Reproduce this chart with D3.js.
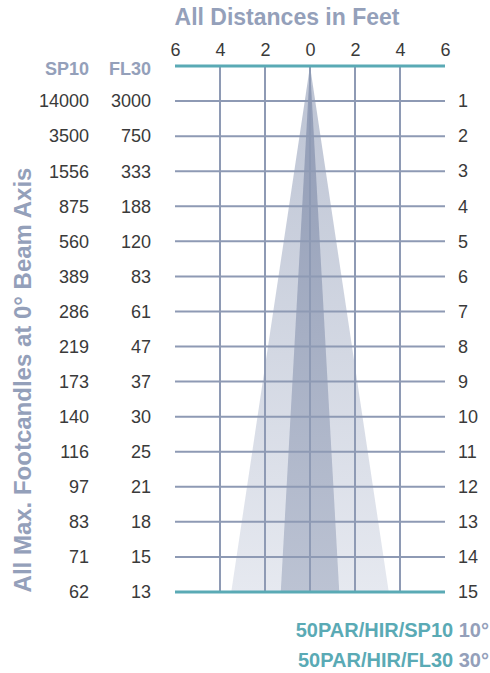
<!DOCTYPE html>
<html>
<head>
<meta charset="utf-8">
<script src="https://cdn.jsdelivr.net/npm/d3@7"></script>
<style>
  body { margin: 0; background: #fff; }
  text { font-family: "Liberation Sans", Arial, sans-serif; }
</style>
</head>
<body>
<div id="chart"></div>
<script>
// data
var distances = [1, 2, 3, 4, 5, 6, 7, 8, 9, 10, 11, 12, 13, 14, 15];
var sp10 = [14000, 3500, 1556, 875, 560, 389, 286, 219, 173, 140, 116, 97, 83, 71, 62];
var fl30 = [3000, 750, 333, 188, 120, 83, 61, 47, 37, 30, 25, 21, 18, 15, 13];
var feetTicks = [-6, -4, -2, 0, 2, 4, 6];
var beamNames = ["50PAR/HIR/SP10", "50PAR/HIR/FL30"];
var beamAngles = ["10°", "30°"];
// half beam width (ft) at the last distance
var beamHalfWidth = [1.3, 3.5];

var W = 490, H = 673;
var teal = "#5aaab5", grid = "#8e9ab4", label = "#94a0ba", ink = "#3a3a3a";

var svg = d3.select("#chart")
  .append("svg")
  .attr("width", W)
  .attr("height", H);

var x = d3.scaleLinear().domain([-6, 6]).range([175, 445]);
var y = d3.scaleLinear().domain([0, 15]).range([66, 592]);

// gradients for the beams (fade toward the far end)
var defs = svg.append("defs");
function grad(id, c0, c1) {
  var g = defs.append("linearGradient")
    .attr("id", id)
    .attr("gradientUnits", "userSpaceOnUse")
    .attr("x1", 0).attr("x2", 0)
    .attr("y1", y(0)).attr("y2", y(15));
  g.append("stop").attr("offset", 0).attr("stop-color", c0);
  g.append("stop").attr("offset", 1).attr("stop-color", c1);
}
grad("wide", "#bcc3d3", "#e6e9f0");
grad("narrow", "#8f9ab4", "#bcc3d3");

var last = distances[distances.length - 1];
var area = d3.line().x(d => x(d[0])).y(d => y(d[1]));

// FL30 first (wide), SP10 on top (narrow)
[1, 0].forEach(function (i) {
  var hw = beamHalfWidth[i];
  svg.append("path")
    .attr("d", area([[0, 0], [hw, last], [-hw, last]]) + "Z")
    .attr("fill", i == 0 ? "url(#narrow)" : "url(#wide)");
});

// vertical grid
svg.append("g")
  .selectAll("line")
  .data(feetTicks.filter(d => Math.abs(d) < 6))
  .enter()
  .append("line")
  .attr("x1", d => x(d)).attr("x2", d => x(d))
  .attr("y1", y(0)).attr("y2", y(15))
  .attr("stroke", grid)
  .attr("stroke-width", 2);

// horizontal grid
svg.append("g")
  .selectAll("line")
  .data(distances.slice(0, -1))
  .enter()
  .append("line")
  .attr("x1", x(-6)).attr("x2", x(6))
  .attr("y1", d => y(d)).attr("y2", d => y(d))
  .attr("stroke", grid)
  .attr("stroke-width", 2);

// teal top and bottom rules
[0, last].forEach(function (d) {
  svg.append("line")
    .attr("x1", x(-6)).attr("x2", x(6))
    .attr("y1", y(d)).attr("y2", y(d))
    .attr("stroke", teal)
    .attr("stroke-width", 3);
});

// top axis labels (absolute feet)
var topAxis = d3.axisTop(x)
  .tickValues(feetTicks)
  .tickFormat(d => Math.abs(d))
  .tickSize(0)
  .tickPadding(0);
var ta = svg.append("g")
  .attr("transform", "translate(0,56)")
  .call(topAxis);
ta.select(".domain").remove();
ta.selectAll("text")
  .attr("dy", 0)
  .attr("font-size", 18)
  .attr("fill", ink)
  .style("font-family", "'Liberation Sans', Arial, sans-serif");

svg.append("text")
  .attr("x", 287).attr("y", 25)
  .attr("text-anchor", "middle")
  .attr("font-size", 23)
  .attr("font-weight", "bold")
  .attr("fill", label)
  .text("All Distances in Feet");

// right distance labels
var ra = d3.axisRight(y)
  .tickValues(distances)
  .tickSize(0)
  .tickPadding(0);
var rg = svg.append("g")
  .attr("transform", "translate(458,0)")
  .call(ra);
rg.select(".domain").remove();
rg.selectAll("text")
  .attr("x", 0)
  .attr("font-size", 18)
  .attr("fill", ink)
  .style("font-family", "'Liberation Sans', Arial, sans-serif");

// footcandle columns
var cols = [["SP10", sp10, 89], ["FL30", fl30, 151]];
cols.forEach(function (c) {
  svg.append("text")
    .attr("x", c[2]).attr("y", 69)
    .attr("dy", "0.35em")
    .attr("text-anchor", "end")
    .attr("font-size", 18)
    .attr("font-weight", "bold")
    .attr("fill", label)
    .text(c[0]);
  svg.append("g")
    .selectAll("text")
    .data(c[1])
    .enter()
    .append("text")
    .attr("x", c[2])
    .attr("y", (d, i) => y(distances[i]))
    .attr("dy", "0.35em")
    .attr("text-anchor", "end")
    .attr("font-size", 18)
    .attr("fill", ink)
    .text(d => d);
});

svg.append("text")
  .attr("transform", "translate(31,380) rotate(-90)")
  .attr("text-anchor", "middle")
  .attr("font-size", 24)
  .attr("font-weight", "bold")
  .attr("fill", label)
  .text("All Max. Footcandles at 0° Beam Axis");

// legend
beamNames.forEach(function (n, i) {
  var t = svg.append("text")
    .attr("x", 489).attr("y", 637 + i * 30)
    .attr("text-anchor", "end")
    .attr("font-size", 20)
    .attr("font-weight", "bold");
  t.append("tspan").attr("fill", teal).text(n);
  t.append("tspan").attr("fill", label).text(" " + beamAngles[i]);
});
</script>
</body>
</html>
